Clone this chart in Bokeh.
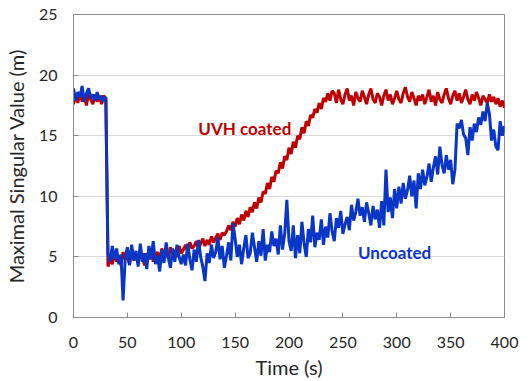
from bokeh.plotting import figure
from bokeh.models import Range1d, FixedTicker, Label
from bokeh.embed import file_html
from bokeh.resources import INLINE

# time axis (s), 2 s steps
time_s = list(range(0, 401, 2))

# UVH coated (red)
uvh_coated = [
    17.6, 18.4, 17.7, 18.6, 17.8, 18.3, 17.5, 18.5, 18.0, 17.6, 18.4, 17.8, 18.2, 17.6, 18.3, 18.1,
    4.2, 4.9, 4.4, 5.3, 4.6, 5.1, 4.3, 5.4, 4.8, 5.0, 4.4, 5.6, 4.7, 5.2, 4.5, 5.5, 4.9, 4.3, 5.3, 4.8,
    5.6, 4.6, 5.1, 5.4, 4.8, 5.7, 5.0, 5.3, 4.9, 5.8, 5.2, 5.5, 5.0, 5.9, 5.3,
    5.6, 6.0, 5.4, 6.2, 5.7, 5.9, 6.3, 5.6, 6.1, 6.5, 5.9, 6.4, 6.0, 6.7, 6.2, 6.6, 6.9, 6.4, 7.0, 6.8,
    7.1, 7.6, 7.2, 7.9, 7.5, 8.2, 7.7, 8.5, 8.0, 8.8, 8.3, 9.1, 8.7, 9.5, 9.0, 9.9, 9.5, 10.4, 10.2, 11.1,
    10.6, 11.6, 11.2, 12.1, 11.9, 12.8, 12.3, 13.3, 13.0, 14.0, 13.5, 14.5, 14.0, 15.0, 14.7, 15.7, 15.2,
    16.2, 15.8, 16.7, 16.5, 17.2, 16.9, 17.7, 17.2, 18.1, 17.8, 18.5, 17.9, 18.7,
    18.5, 17.7, 18.8, 18.0, 17.6, 18.4, 18.9, 17.9, 18.3, 17.5, 18.6, 18.1, 17.8, 18.7, 18.2, 17.6, 18.4, 18.9, 18.0, 17.7,
    18.5, 18.2, 17.5, 18.3, 18.8, 17.9, 18.4, 17.6, 18.1, 18.7, 18.0, 17.7, 18.5, 19.0, 18.2, 17.8, 18.6, 18.1, 17.5, 18.3,
    17.9, 18.4, 17.6, 18.2, 18.8, 17.8, 18.3, 17.5, 18.6, 18.0, 17.7, 18.4, 18.9, 18.1, 17.6, 18.3, 18.7, 17.9, 18.5, 17.7,
    18.2, 18.8, 18.0, 17.6, 18.4, 17.9, 18.6, 18.1, 17.5, 18.3, 18.0, 17.7, 18.4, 17.8, 18.2, 17.6, 18.1, 17.4, 17.9, 17.3,
]

# Uncoated (blue)
uncoated = [
    18.9, 17.9, 18.6, 18.2, 19.1, 17.8, 18.5, 18.9, 18.1, 18.4, 17.9, 18.6, 18.0, 18.3, 17.8, 18.2,
    5.3, 4.6, 5.9, 4.8, 5.7, 4.4, 5.2, 1.4, 4.9, 5.8, 4.3, 6.0, 4.7, 5.5, 4.2, 6.1, 4.6, 5.3, 4.0, 5.9,
    4.8, 6.3, 4.4, 5.1, 3.8, 5.6, 4.5, 6.2, 4.9, 4.1, 5.7, 4.6, 6.0, 5.0, 4.4,
    5.2, 4.3, 6.1, 4.8, 3.9, 5.6, 4.6, 6.4, 5.0, 4.2, 3.0, 5.3, 4.5, 6.0, 4.9, 5.4, 6.6, 4.8, 5.9, 4.1,
    5.1, 6.2, 4.7, 7.8, 6.5, 5.0, 6.0, 4.4, 5.7, 6.8, 4.9, 5.3, 7.0, 5.8, 4.6, 6.3, 5.1, 7.3, 4.7, 6.0,
    5.4, 7.1, 5.9, 6.5, 5.2, 7.6, 5.6, 6.9, 9.7, 6.3,
    5.5, 7.6, 4.9, 6.8, 5.3, 7.9, 6.1, 5.0, 7.3, 6.2, 8.4, 5.8, 7.0, 6.4, 8.1, 6.0, 7.5, 6.6, 8.6, 7.1,
    6.3, 8.2, 7.4, 8.8, 6.9, 7.7, 8.3, 7.2, 9.3, 8.0, 8.7, 9.8, 8.4, 9.1, 7.9, 9.5, 8.6, 7.6, 9.2, 8.1,
    8.9, 7.4, 9.6, 7.6, 12.2, 8.7, 9.9, 8.2, 10.6, 9.0,
    10.8, 9.4, 11.1, 9.8, 10.5, 11.7, 10.0, 11.3, 9.0, 11.9, 10.6, 12.2, 10.9, 11.6, 12.7, 11.2, 12.4,
    13.3, 11.8, 14.1, 12.6, 11.9, 13.4, 12.2, 13.0,
    11.0, 12.2, 16.0, 15.6, 16.3, 15.1, 14.8, 13.4, 15.7, 14.6, 16.0, 15.3, 16.5, 15.9, 17.0, 16.2,
    17.7, 16.8, 14.6, 15.5, 14.1, 13.8, 16.2, 15.0, 15.8,
]

x_ticks = [0, 50, 100, 150, 200, 250, 300, 350, 400]
y_ticks = [0, 5, 10, 15, 20, 25]

FONT = "Lato"
RED = "#c00000"
BLUE = "#0a36c8"

p = figure(output_backend="svg", toolbar_location=None,
           x_range=Range1d(0, 400), y_range=Range1d(0, 25),
           frame_width=431, frame_height=303,
           min_border_left=64, min_border_right=20, min_border_top=14, min_border_bottom=56)

p.line(time_s, uvh_coated, line_color=RED, line_width=3)
p.line(time_s, uncoated, line_color=BLUE, line_width=3)

p.add_layout(Label(x=159, y=15.6, text="UVH coated", text_color=RED, text_font=FONT,
                   text_font_size="17px", text_font_style="bold",
                   text_align="center", text_baseline="middle"))
p.add_layout(Label(x=298, y=5.4, text="Uncoated", text_color=BLUE, text_font=FONT,
                   text_font_size="17px", text_font_style="bold",
                   text_align="center", text_baseline="middle"))

p.xaxis.ticker = FixedTicker(ticks=x_ticks)
p.yaxis.ticker = FixedTicker(ticks=y_ticks)
for ax in (p.xaxis, p.yaxis):
    ax.major_tick_in = 5
    ax.major_tick_out = 0
    ax.minor_tick_in = 0
    ax.minor_tick_out = 0
    ax.axis_line_color = "#8c8c8c"
    ax.major_tick_line_color = "#8c8c8c"
    ax.major_label_text_font = FONT
    ax.major_label_text_font_size = "16px"
    ax.major_label_text_color = "#262626"
    ax.axis_label_text_font = FONT
    ax.axis_label_text_font_size = "20px"
    ax.axis_label_text_font_style = "normal"
    ax.axis_label_text_color = "#262626"

p.xaxis.axis_label = "Time (s)"
p.yaxis.axis_label = "Maximal Singular Value (m)"
p.xaxis.major_label_standoff = 19
p.yaxis.major_label_standoff = 16
p.xaxis.axis_label_standoff = 4
p.yaxis.axis_label_standoff = 8

p.xgrid.grid_line_color = None
p.ygrid.grid_line_color = "#d9d9d9"
p.outline_line_color = "#8c8c8c"
p.outline_line_width = 1
p.background_fill_color = "white"
p.border_fill_color = "white"

open("out.html", "w").write(file_html(p, INLINE))
